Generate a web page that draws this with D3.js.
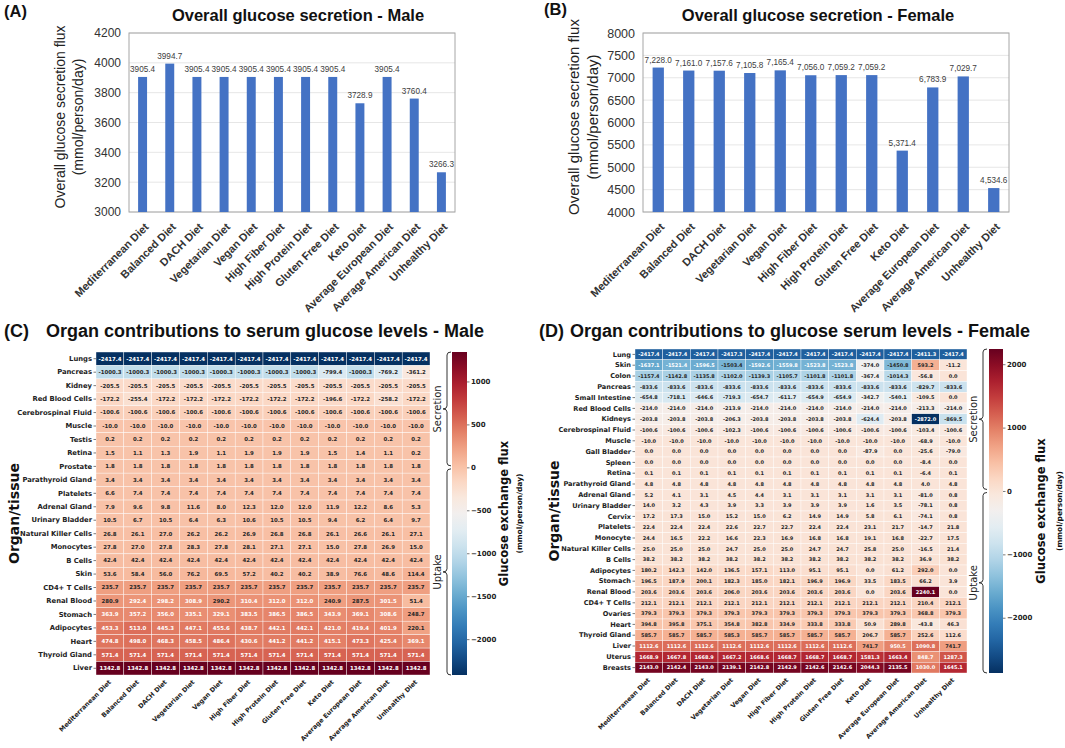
<!DOCTYPE html>
<html>
<head>
<meta charset="utf-8">
<script src="https://cdn.jsdelivr.net/npm/d3@7/dist/d3.min.js"></script>
<style>
body { margin: 0; background: #fff; }
</style>
</head>
<body>
<div id="chart"></div>
<script>
var width = 1065, height = 748;

var diets = ["Mediterranean Diet", "Balanced Diet", "DACH Diet", "Vegetarian Diet", "Vegan Diet", "High Fiber Diet",
  "High Protein Diet", "Gluten Free Diet", "Keto Diet", "Average European Diet", "Average American Diet", "Unhealthy Diet"];

var maleTotal = [3905.4, 3994.7, 3905.4, 3905.4, 3905.4, 3905.4, 3905.4, 3905.4, 3728.9, 3905.4, 3760.4, 3266.3];
var femaleTotal = [7228.0, 7161.0, 7157.6, 7105.8, 7165.4, 7056.0, 7059.2, 7059.2, 5371.4, 6783.9, 7029.7, 4534.6];
var maleTicks = [3000, 3200, 3400, 3600, 3800, 4000, 4200];
var femaleTicks = [4000, 4500, 5000, 5500, 6000, 6500, 7000, 7500, 8000];

var maleOrgans = ["Lungs", "Pancreas", "Kidney", "Red Blood Cells", "Cerebrospinal Fluid", "Muscle", "Testis", "Retina",
  "Prostate", "Parathyroid Gland", "Platelets", "Adrenal Gland", "Urinary Bladder", "Natural Killer Cells", "Monocytes",
  "B Cells", "Skin", "CD4+ T Cells", "Renal Blood", "Stomach", "Adipocytes", "Heart", "Thyroid Gland", "Liver"];
var maleFlux = [
  [-2417.4, -2417.4, -2417.4, -2417.4, -2417.4, -2417.4, -2417.4, -2417.4, -2417.4, -2417.4, -2417.4, -2417.4],
  [-1000.3, -1000.3, -1000.3, -1000.3, -1000.3, -1000.3, -1000.3, -1000.3, -799.4, -1000.3, -769.2, -361.2],
  [-205.5, -205.5, -205.5, -205.5, -205.5, -205.5, -205.5, -205.5, -205.5, -205.5, -205.5, -205.5],
  [-172.2, -255.4, -172.2, -172.2, -172.2, -172.2, -172.2, -172.2, -196.6, -172.2, -258.2, -172.2],
  [-100.6, -100.6, -100.6, -100.6, -100.6, -100.6, -100.6, -100.6, -100.6, -100.6, -100.6, -100.6],
  [-10.0, -10.0, -10.0, -10.0, -10.0, -10.0, -10.0, -10.0, -10.0, -10.0, -10.0, -10.0],
  [0.2, 0.2, 0.2, 0.2, 0.2, 0.2, 0.2, 0.2, 0.2, 0.2, 0.2, 0.2],
  [1.5, 1.1, 1.3, 1.9, 1.1, 1.9, 1.9, 1.9, 1.5, 1.4, 1.1, 0.2],
  [1.8, 1.8, 1.8, 1.8, 1.8, 1.8, 1.8, 1.8, 1.8, 1.8, 1.8, 1.8],
  [3.4, 3.4, 3.4, 3.4, 3.4, 3.4, 3.4, 3.4, 3.4, 3.4, 3.4, 3.4],
  [6.6, 7.4, 7.4, 7.4, 7.4, 7.4, 7.4, 7.4, 7.4, 7.4, 7.4, 7.4],
  [7.9, 9.6, 9.8, 11.6, 8.0, 12.3, 12.0, 12.0, 11.9, 12.2, 8.6, 5.3],
  [10.5, 6.7, 10.5, 6.4, 6.3, 10.6, 10.5, 10.5, 9.4, 6.2, 6.4, 9.7],
  [26.8, 26.1, 27.0, 26.2, 26.2, 26.9, 26.8, 26.8, 26.1, 26.6, 26.1, 27.1],
  [27.8, 27.0, 27.8, 28.3, 27.8, 28.1, 27.1, 27.1, 15.0, 27.8, 26.9, 15.0],
  [42.4, 42.4, 42.4, 42.4, 42.4, 42.4, 42.4, 42.4, 42.4, 42.4, 42.4, 42.4],
  [53.6, 58.4, 56.0, 76.2, 69.5, 57.2, 40.2, 40.2, 38.9, 76.6, 48.6, 114.4],
  [235.7, 235.7, 235.7, 235.7, 235.7, 235.7, 235.7, 235.7, 235.7, 235.7, 235.7, 235.7],
  [280.9, 292.4, 298.2, 308.9, 290.2, 310.4, 312.0, 312.0, 240.9, 287.5, 301.5, 51.4],
  [363.9, 357.2, 356.0, 335.1, 329.1, 383.5, 386.5, 386.5, 343.9, 369.1, 308.6, 248.7],
  [453.3, 513.0, 445.3, 447.1, 455.6, 438.7, 442.1, 442.1, 421.0, 419.4, 401.9, 220.1],
  [474.8, 498.0, 468.3, 458.5, 486.4, 430.6, 441.2, 441.2, 415.1, 473.3, 425.4, 369.1],
  [571.4, 571.4, 571.4, 571.4, 571.4, 571.4, 571.4, 571.4, 571.4, 571.4, 571.4, 571.4],
  [1342.8, 1342.8, 1342.8, 1342.8, 1342.8, 1342.8, 1342.8, 1342.8, 1342.8, 1342.8, 1342.8, 1342.8]
];

var femaleOrgans = ["Lung", "Skin", "Colon", "Pancreas", "Small Intestine", "Red Blood Cells", "Kidneys",
  "Cerebrospinal Fluid", "Muscle", "Gall Bladder", "Spleen", "Retina", "Parathyroid Gland", "Adrenal Gland",
  "Urinary Bladder", "Cervix", "Platelets", "Monocyte", "Natural Killer Cells", "B Cells", "Adipocytes", "Stomach",
  "Renal Blood", "CD4+ T Cells", "Ovaries", "Heart", "Thyroid Gland", "Liver", "Uterus", "Breasts"];
var femaleFlux = [
  [-2417.4, -2417.4, -2417.4, -2417.3, -2417.4, -2417.4, -2417.4, -2417.4, -2417.4, -2417.4, -2411.3, -2417.4],
  [-1637.1, -1521.4, -1596.5, -1503.4, -1592.6, -1559.8, -1523.8, -1523.8, -374.0, -1450.8, 593.2, -11.2],
  [-1157.4, -1142.8, -1135.8, -1102.0, -1139.3, -1105.7, -1101.8, -1101.8, -367.4, -1014.3, -56.8, -0.0],
  [-833.6, -833.6, -833.6, -833.6, -833.6, -833.6, -833.6, -833.6, -833.6, -833.6, -829.7, -833.6],
  [-654.8, -718.1, -646.6, -719.3, -654.7, -611.7, -654.9, -654.9, -342.7, -540.1, -109.5, -0.0],
  [-214.0, -214.0, -214.0, -213.9, -214.0, -214.0, -214.0, -214.0, -214.0, -214.0, -213.3, -214.0],
  [-203.8, -203.8, -203.8, -206.3, -203.8, -203.8, -203.8, -203.8, -624.4, -203.8, -2872.0, -869.5],
  [-100.6, -100.6, -100.6, -102.3, -100.6, -100.6, -100.6, -100.6, -100.6, -100.6, -103.4, -100.6],
  [-10.0, -10.0, -10.0, -10.0, -10.0, -10.0, -10.0, -10.0, -10.0, -10.0, -68.9, -10.0],
  [-0.0, -0.0, -0.0, -0.0, -0.0, -0.0, -0.0, -0.0, -87.9, -0.0, -25.6, -79.0],
  [-0.0, -0.0, -0.0, -0.0, -0.0, -0.0, -0.0, -0.0, -0.0, -0.0, -8.4, -0.0],
  [0.1, 0.1, 0.1, 0.1, 0.1, 0.1, 0.1, 0.1, 0.1, 0.1, -6.4, 0.1],
  [4.8, 4.8, 4.8, 4.8, 4.8, 4.8, 4.8, 4.8, 4.8, 4.8, 4.0, 4.8],
  [5.2, 4.1, 3.1, 4.5, 4.4, 3.1, 3.1, 3.1, 3.1, 3.1, -81.0, 0.8],
  [14.0, 3.2, 4.3, 3.9, 3.3, 3.9, 3.9, 3.9, 1.6, 3.5, -78.1, 0.8],
  [17.2, 17.3, 15.0, 15.2, 15.0, 6.2, 14.9, 14.9, 5.8, 6.1, -74.1, 0.8],
  [22.4, 22.4, 22.4, 22.6, 22.7, 22.7, 22.4, 22.4, 23.1, 21.7, -14.7, 21.8],
  [24.4, 16.5, 22.2, 16.6, 22.3, 16.9, 16.8, 16.8, 19.1, 16.8, -22.7, 17.5],
  [25.0, 25.0, 25.0, 24.7, 25.0, 25.0, 24.7, 24.7, 25.8, 25.0, -16.5, 21.4],
  [38.2, 38.2, 38.2, 38.2, 38.2, 38.2, 38.2, 38.2, 38.2, 38.2, 36.9, 38.2],
  [180.2, 142.3, 142.0, 136.5, 157.1, 113.0, 95.1, 95.1, 0.0, 61.2, 292.0, 0.0],
  [196.5, 187.9, 200.1, 182.3, 185.0, 182.1, 196.9, 196.9, 33.5, 183.5, 66.2, 3.9],
  [203.6, 203.6, 203.6, 206.0, 203.6, 203.6, 203.6, 203.6, 0.0, 203.6, 2240.1, 0.0],
  [212.1, 212.1, 212.1, 212.1, 212.1, 212.1, 212.1, 212.1, 212.1, 212.1, 210.4, 212.1],
  [379.3, 379.3, 379.3, 379.3, 379.3, 379.3, 379.3, 379.3, 379.3, 379.3, 368.8, 379.3],
  [394.8, 395.8, 375.1, 354.8, 382.8, 334.9, 333.8, 333.8, 50.9, 289.8, -43.8, 46.3],
  [585.7, 585.7, 585.7, 585.3, 585.7, 585.7, 585.7, 585.7, 206.7, 585.7, 252.6, 112.6],
  [1112.6, 1112.6, 1112.6, 1112.6, 1112.6, 1112.6, 1112.6, 1112.6, 741.7, 950.5, 1090.8, 741.7],
  [1668.9, 1667.8, 1668.9, 1667.2, 1668.6, 1668.7, 1668.7, 1668.7, 1581.3, 1663.4, 848.7, 1287.3],
  [2143.0, 2142.4, 2143.0, 2139.1, 2142.8, 2142.9, 2142.6, 2142.6, 2044.3, 2135.5, 1030.0, 1645.1]
];

var maleCbTicks = [-2000, -1500, -1000, -500, 0, 500, 1000];
var femaleCbTicks = [-2000, -1000, 0, 1000, 2000];

var svg = d3.select("#chart").append("svg")
    .attr("width", width)
    .attr("height", height)
    .style("background", "#fff");

var loc = d3.formatLocale({decimal: ".", thousands: ",", grouping: [3], currency: ["$", ""], minus: "-"});
var fmt1 = loc.format(".1f");
var fmtComma = loc.format(",.1f");
var heatFont = "DejaVu Sans";
var titleFont = "Liberation Sans, Arial, sans-serif";

function panelLetter(txt, x, y, size) {
  svg.append("text").text(txt)
    .attr("x", x).attr("y", y)
    .attr("font-family", titleFont)
    .attr("font-weight", "bold")
    .attr("font-size", size)
    .attr("fill", "#111");
}

// ---------- bar charts ----------
function drawBars(o) {
  var g = svg.append("g");
  var x = d3.scaleBand().domain(diets).range([o.x0, o.x1]);
  var y = d3.scaleLinear().domain(d3.extent(o.ticks)).range([o.y1, o.y0]);

  g.selectAll(".grid")
    .data(o.ticks)
    .enter().append("line")
    .attr("x1", o.x0).attr("x2", o.x1)
    .attr("y1", function(d) { return y(d); })
    .attr("y2", function(d) { return y(d); })
    .attr("stroke", "#e0e0e0")
    .attr("stroke-width", 0.8);

  g.append("rect")
    .attr("x", o.x0).attr("y", o.y0)
    .attr("width", o.x1 - o.x0).attr("height", o.y1 - o.y0)
    .attr("fill", "none")
    .attr("stroke", "#a6a6a6")
    .attr("stroke-width", 1);

  var ya = g.append("g")
    .attr("transform", "translate(" + o.x0 + ",0)")
    .call(d3.axisLeft(y).tickValues(o.ticks).tickSize(0).tickPadding(8).tickFormat(d3.format("d")));
  ya.select(".domain").remove();
  ya.selectAll("text")
    .attr("font-family", titleFont)
    .attr("font-size", o.tickFont)
    .attr("fill", "#333");

  var bw = x.bandwidth() * o.barFrac;
  g.selectAll(".bar")
    .data(o.values)
    .enter().append("rect")
    .attr("x", function(d, i) { return x(diets[i]) + x.bandwidth() / 2 - bw / 2; })
    .attr("y", function(d) { return y(d); })
    .attr("width", bw)
    .attr("height", function(d) { return y(o.ticks[0]) - y(d); })
    .attr("fill", "#4472C4");

  g.selectAll(".val")
    .data(o.values)
    .enter().append("text")
    .text(function(d) { return o.fmt(d); })
    .attr("x", function(d, i) { return x(diets[i]) + x.bandwidth() / 2; })
    .attr("y", function(d) { return y(d) - 5; })
    .attr("text-anchor", "middle")
    .attr("font-family", titleFont)
    .attr("font-size", "8.2px")
    .attr("fill", "#404040");

  g.selectAll(".xl")
    .data(diets)
    .enter().append("text")
    .text(function(d) { return d; })
    .attr("transform", function(d) {
      return "translate(" + (x(d) + x.bandwidth() / 2 + 4) + "," + (o.y1 + 13) + ") rotate(-45)";
    })
    .attr("text-anchor", "end")
    .attr("dy", "0.35em")
    .attr("font-family", titleFont)
    .attr("font-weight", "bold")
    .attr("font-size", "11px")
    .attr("fill", "#333");

  var yt = g.append("text")
    .attr("transform", "translate(" + o.titleX + "," + o.titleY + ") rotate(-90)")
    .attr("text-anchor", "middle")
    .attr("font-family", titleFont)
    .attr("font-size", o.axisTitleFont)
    .attr("fill", "#222");
  yt.append("tspan").attr("x", 0).attr("dy", 0).text("Overall glucose secretion flux");
  yt.append("tspan").attr("x", 0).attr("dy", "1.25em").text("(mmol/person/day)");

  svg.append("text").text(o.title)
    .attr("x", o.titleCx).attr("y", 21)
    .attr("text-anchor", "middle")
    .attr("font-family", titleFont)
    .attr("font-weight", "bold")
    .attr("font-size", "16.5px")
    .attr("fill", "#111");
}

drawBars({x0: 129, x1: 455, y0: 33, y1: 212, values: maleTotal, ticks: maleTicks,
  barFrac: 0.33, tickFont: "12px", axisTitleFont: "14px", titleX: 65, titleY: 117,
  fmt: d3.format(".1f"), title: "Overall glucose secretion - Male", titleCx: 298});
drawBars({x0: 643, x1: 1009, y0: 33, y1: 212, values: femaleTotal, ticks: femaleTicks,
  barFrac: 0.37, tickFont: "12.5px", axisTitleFont: "15px", titleX: 579, titleY: 117,
  fmt: fmtComma, title: "Overall glucose secretion - Female", titleCx: 818});

panelLetter("(A)", 4, 17, "16.5px");
panelLetter("(B)", 544, 15, "16.5px");

// ---------- heatmaps ----------
function luminance(c) {
  var rgb = d3.rgb(c);
  var lin = [rgb.r, rgb.g, rgb.b].map(function(v) {
    v = v / 255;
    return v <= 0.03928 ? v / 12.92 : Math.pow((v + 0.055) / 1.055, 2.4);
  });
  return 0.2126 * lin[0] + 0.7152 * lin[1] + 0.0722 * lin[2];
}

function bracket(g, x, ya, yb, label) {
  var r = 3, m = (ya + yb) / 2;
  g.append("path")
    .attr("d", "M" + (x + 4) + "," + ya + " Q" + x + "," + ya + " " + x + "," + (ya + r) +
      " L" + x + "," + (m - r) + " Q" + x + "," + m + " " + (x - 4) + "," + m +
      " Q" + x + "," + m + " " + x + "," + (m + r) +
      " L" + x + "," + (yb - r) + " Q" + x + "," + yb + " " + (x + 4) + "," + yb)
    .attr("fill", "none")
    .attr("stroke", "#333")
    .attr("stroke-width", 1);
  g.append("text").text(label)
    .attr("transform", "translate(" + (x - 6) + "," + m + ") rotate(-90)")
    .attr("text-anchor", "middle")
    .attr("font-family", heatFont)
    .attr("font-size", "10px")
    .attr("fill", "#222");
}

function drawHeatmap(o) {
  var g = svg.append("g");
  var x = d3.scaleBand().domain(diets).range([o.x0, o.x1]);
  var y = d3.scaleBand().domain(o.organs).range([o.y0, o.y1]);
  var ext = d3.extent(d3.merge(o.flux));
  var norm = d3.scaleLinear().domain(ext).range([1, 0]);
  var color = function(v) { return d3.interpolateRdBu(norm(v)); };

  var cells = [];
  o.flux.forEach(function(row, r) {
    row.forEach(function(v, c) { cells.push({organ: o.organs[r], diet: diets[c], v: v}); });
  });

  g.selectAll(".cell")
    .data(cells)
    .enter().append("rect")
    .attr("x", function(d) { return x(d.diet); })
    .attr("y", function(d) { return y(d.organ); })
    .attr("width", x.bandwidth())
    .attr("height", y.bandwidth())
    .attr("fill", function(d) { return color(d.v); })
    .attr("stroke", "#fff")
    .attr("stroke-width", 0.4);

  g.selectAll(".ann")
    .data(cells)
    .enter().append("text")
    .text(function(d) { return fmt1(d.v); })
    .attr("x", function(d) { return x(d.diet) + x.bandwidth() / 2; })
    .attr("y", function(d) { return y(d.organ) + y.bandwidth() / 2; })
    .attr("dy", "0.35em")
    .attr("text-anchor", "middle")
    .attr("font-family", heatFont)
    .attr("font-weight", "bold")
    .attr("font-size", o.cellFont)
    .attr("fill", function(d) { return luminance(color(d.v)) > 0.408 ? "#262626" : "#fff"; });

  var ya = g.append("g")
    .attr("transform", "translate(" + o.x0 + ",0)")
    .call(d3.axisLeft(y).tickSize(2.5).tickPadding(1.5));
  ya.select(".domain").remove();
  ya.selectAll("line").attr("stroke", "#222").attr("stroke-width", 0.6);
  ya.selectAll("text")
    .attr("font-family", heatFont)
    .attr("font-weight", "bold")
    .attr("font-size", o.rowFont)
    .attr("fill", "#222");

  g.selectAll(".xl")
    .data(diets)
    .enter().append("text")
    .text(function(d) { return d; })
    .attr("transform", function(d) {
      return "translate(" + (x(d) + x.bandwidth() / 2) + "," + (o.y1 + 6) + ") rotate(-45)";
    })
    .attr("text-anchor", "end")
    .attr("dy", "0.35em")
    .attr("font-family", heatFont)
    .attr("font-weight", "bold")
    .attr("font-size", "6.4px")
    .attr("fill", "#222");

  g.append("text").text("Organ/tissue")
    .attr("transform", "translate(" + o.ylabX + "," + ((o.y0 + o.y1) / 2) + ") rotate(-90)")
    .attr("text-anchor", "middle")
    .attr("font-family", heatFont)
    .attr("font-weight", "bold")
    .attr("font-size", "14px")
    .attr("fill", "#111");

  // colorbar
  var cb = d3.scaleLinear().domain(ext).range([o.y1, o.y0]);
  var gid = "grad" + o.id;
  var grad = svg.append("defs").append("linearGradient")
    .attr("id", gid).attr("x1", 0).attr("y1", 1).attr("x2", 0).attr("y2", 0);
  d3.range(0, 1.0001, 0.05).forEach(function(t) {
    grad.append("stop").attr("offset", t).attr("stop-color", color(ext[0] + t * (ext[1] - ext[0])));
  });
  g.append("rect")
    .attr("x", o.cbX).attr("y", o.y0)
    .attr("width", o.cbW).attr("height", o.y1 - o.y0)
    .attr("fill", "url(#" + gid + ")");
  var ca = g.append("g")
    .attr("transform", "translate(" + (o.cbX + o.cbW) + ",0)")
    .call(d3.axisRight(cb).tickValues(o.cbTicks).tickSize(2.5).tickPadding(1.5)
      .tickFormat(function(d) { return d < 0 ? "\u2212" + Math.abs(d) : d; }));
  ca.select(".domain").remove();
  ca.selectAll("line").attr("stroke", "#222").attr("stroke-width", 0.6);
  ca.selectAll("text")
    .attr("font-family", heatFont)
    .attr("font-weight", "bold")
    .attr("font-size", "7px")
    .attr("fill", "#222");

  var cbt = g.append("text")
    .attr("transform", "translate(" + o.cbTitleX + "," + ((o.y0 + o.y1) / 2) + ") rotate(-90)")
    .attr("text-anchor", "middle")
    .attr("font-family", heatFont)
    .attr("font-weight", "bold")
    .attr("fill", "#111");
  cbt.append("tspan").attr("x", 0).attr("dy", 0).attr("font-size", "11.5px").text("Glucose exchange flux");
  cbt.append("tspan").attr("x", 0).attr("dy", o.cbSubDy).attr("font-size", "7.5px").text("(mmol/person/day)");

  bracket(g, o.brX, o.y0, cb(0) - 1.5, "Secretion");
  bracket(g, o.brX, cb(0) + 1.5, o.y1, "Uptake");

  svg.append("text").text(o.title)
    .attr("x", o.titleCx).attr("y", 337)
    .attr("text-anchor", "middle")
    .attr("font-family", titleFont)
    .attr("font-weight", "bold")
    .attr("font-size", "18px")
    .attr("fill", "#111");
}

drawHeatmap({id: "m", x0: 96, x1: 430, y0: 352, y1: 675, organs: maleOrgans, flux: maleFlux,
  cellFont: "5.4px", rowFont: "6.8px", ylabX: 19, cbX: 452, cbW: 15, cbTicks: maleCbTicks,
  cbTitleX: 508, cbSubDy: 14, brX: 447, title: "Organ contributions to serum glucose levels - Male", titleCx: 265});
drawHeatmap({id: "f", x0: 635, x1: 967, y0: 349, y1: 673, organs: femaleOrgans, flux: femaleFlux,
  cellFont: "5px", rowFont: "6.6px", ylabX: 559, cbX: 989, cbW: 14, cbTicks: femaleCbTicks,
  cbTitleX: 1045, cbSubDy: 17, brX: 983, title: "Organ contributions to glucose serum levels - Female", titleCx: 800});

panelLetter("(C)", 4, 337, "18px");
panelLetter("(D)", 539, 337, "18px");
</script>
</body>
</html>
